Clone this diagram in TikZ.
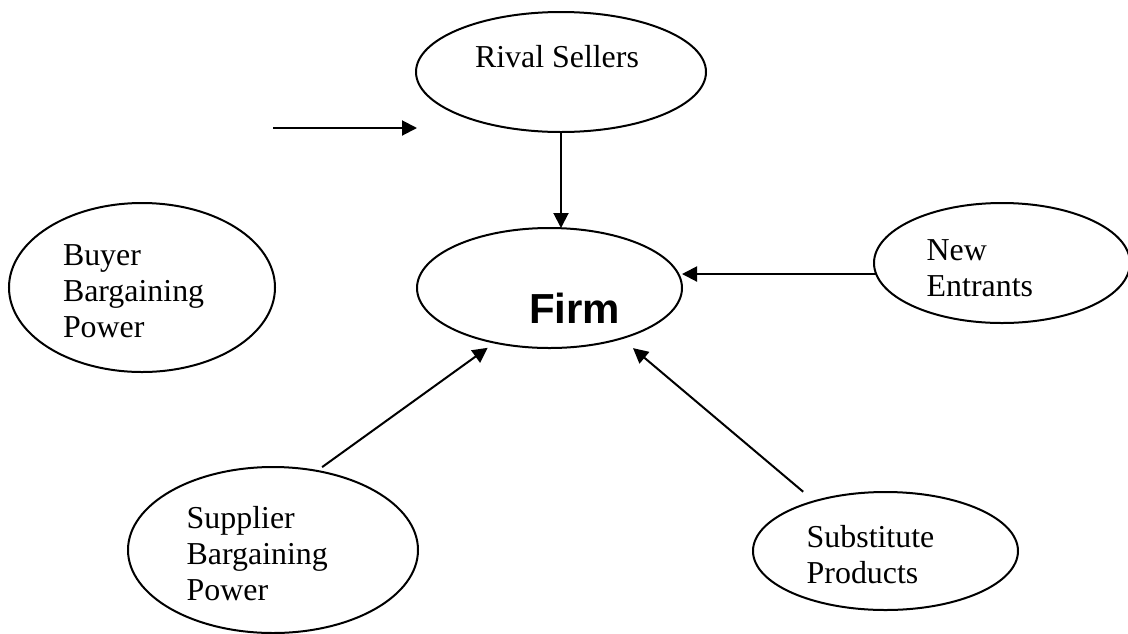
\documentclass[tikz,border=0pt]{standalone}
\usepackage{fontspec}
\setmainfont{Liberation Serif}
\newfontfamily\firmsans{Liberation Sans}
\usetikzlibrary{arrows.meta,shapes.geometric}

\begin{document}
\begin{tikzpicture}[x=1pt,y=-1pt,
  force/.style={ellipse, draw, line width=2pt, inner sep=0pt, outer sep=0pt},
  lbl/.style={inner sep=0pt, outer sep=0pt, align=left, anchor=north west,
    font=\fontsize{31.9}{36}\selectfont},
  arr/.style={line width=2pt, -{Triangle[length=15pt,width=15pt]}}
]
\useasboundingbox (0,0) rectangle (1128,633);

% the five forces around the firm
\node[force, minimum width=290pt, minimum height=120pt] (rival)  at (561,72)    {};
\node[force, minimum width=265pt, minimum height=120pt] (firm)   at (549.5,288) {};
\node[force, minimum width=266pt, minimum height=169pt] (buyer)  at (142,287.5) {};
\node[force, minimum width=256pt, minimum height=120pt] (newent) at (1002,263)  {};
\node[force, minimum width=290pt, minimum height=166pt] (supp)   at (273,550)   {};
\node[force, minimum width=265pt, minimum height=118pt] (subst)  at (885.5,551) {};

% labels
\node[lbl, anchor=base west] (rival-txt) at (475,67) {Rival Sellers};
\node[inner sep=0pt, anchor=base west,
      font=\firmsans\bfseries\fontsize{42}{48}\selectfont] (firm-txt) at (529,323) {Firm};
\node[lbl] (buyer-txt)  at (63,244.2)   {Buyer\\Bargaining\\Power};
\node[lbl] (newent-txt) at (926.7,239.2) {New\\Entrants};
\node[lbl] (supp-txt)   at (186.7,506.2) {Supplier\\Bargaining\\Power};
\node[lbl] (subst-txt)  at (806.7,525.2) {Substitute\\Products};

% connectors
\coordinate (free-a) at (273,128);
\coordinate (free-b) at (417,128);
\draw[arr] (free-a) -- (free-b);
\draw[arr] (rival.south) -- (rival.south |- firm.north);
\draw[arr] (newent.185.5) -- (newent.185.5 -| firm.east);
\draw[arr, shorten <=6.5pt, shorten >=8.8pt] (supp.61.7) -- (firm.225.8);
\draw[arr, shorten <=14.7pt, shorten >=15.1pt] (subst.145.7) -- (firm.325.5);
\end{tikzpicture}
\end{document}
